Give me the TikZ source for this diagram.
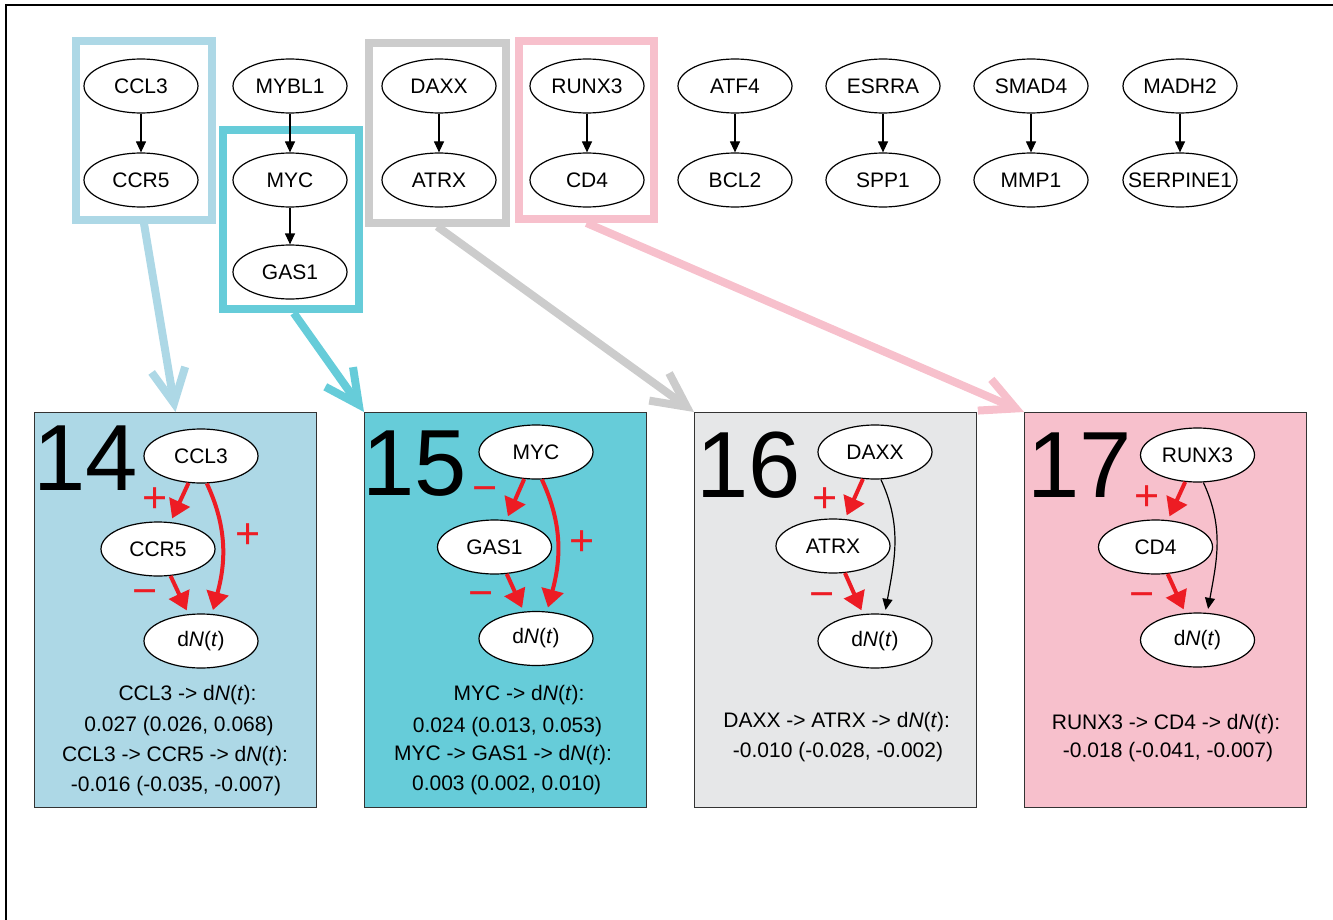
\documentclass[tikz,border=0pt]{standalone}
\usepackage{fontspec}
\setmainfont{Liberation Sans}
\usetikzlibrary{arrows.meta,shapes.geometric,calc}
\definecolor{lblue}{RGB}{173,216,230}
\definecolor{tealb}{RGB}{102,204,217}
\definecolor{grayb}{RGB}{204,204,204}
\definecolor{lgray}{RGB}{230,231,232}
\definecolor{pinkb}{RGB}{247,192,204}
\definecolor{redb}{RGB}{237,28,36}
\begin{document}
\begin{tikzpicture}[x=0.5pt,y=-0.5pt,
  gene/.style={ellipse,draw=black,fill=white,line width=0.6pt,minimum width=57pt,minimum height=27pt,inner sep=0pt,font=\fontsize{10.5}{12}\selectfont},
  sarr/.style={-{Triangle[length=5.5pt,width=5pt]},line width=0.6pt,black},
  hbox/.style={draw,line width=4pt,rectangle,inner sep=0pt},
  bigarr/.style={line width=4pt,-{Straight Barb[length=17pt,width=17pt]}},
  panel/.style={rectangle,draw=black!80,line width=0.5pt,inner sep=0pt,minimum width=141pt,minimum height=197.5pt,anchor=north west},
  rarr/.style={redb,line width=2pt,-{Triangle[length=9pt,width=11pt]},shorten >=2pt},
  txt/.style={font=\fontsize{10.5}{12}\selectfont,inner sep=0pt},
  sign/.style={redb,font=\fontsize{21.5}{24}\selectfont,inner sep=0pt,anchor=base},
  bignum/.style={font=\fontsize{47}{50}\selectfont,inner sep=0pt,anchor=base west}
]
\useasboundingbox (0,0) rectangle (1333,920);
% frame
\coordinate (fr1) at (6,920);
\coordinate (fr2) at (6,5);
\coordinate (fr3) at (1333,5);
\draw[line width=1pt] (fr1) -- (fr2) -- (fr3);

% highlight boxes
\node[hbox,draw=lblue,minimum width=68pt,minimum height=89.25pt] (hb1) at (144,130.25) {};
\node[hbox,draw=tealb,minimum width=68.25pt,minimum height=89.5pt] (hb2) at (290.75,219.5) {};
\node[hbox,draw=grayb,minimum width=68.25pt,minimum height=89.75pt] (hb3) at (437.25,132.75) {};
\node[hbox,draw=pinkb,minimum width=67.5pt,minimum height=89pt] (hb4) at (586.5,130) {};

% top graph
\node[gene] (t1a) at (141,86) {CCL3};
\node[gene] (t1b) at (141,180) {CCR5};
\node[gene] (t2a) at (290,86) {MYBL1};
\node[gene] (t2b) at (290,180) {MYC};
\node[gene] (t2c) at (290,272) {GAS1};
\node[gene] (t3a) at (439,86) {DAXX};
\node[gene] (t3b) at (439,180) {ATRX};
\node[gene] (t4a) at (587,86) {RUNX3};
\node[gene] (t4b) at (587,180) {CD4};
\node[gene] (t5a) at (735,86) {ATF4};
\node[gene] (t5b) at (735,180) {BCL2};
\node[gene] (t6a) at (883,86) {ESRRA};
\node[gene] (t6b) at (883,180) {SPP1};
\node[gene] (t7a) at (1031,86) {SMAD4};
\node[gene] (t7b) at (1031,180) {MMP1};
\node[gene] (t8a) at (1180,86) {MADH2};
\node[gene] (t8b) at (1180,180) {\makebox[38pt][c]{SERPINE1}};
\draw[sarr] (t1a) -- (t1b);
\draw[sarr] (t2a) -- (t2b);
\draw[sarr] (t2b) -- (t2c);
\draw[sarr] (t3a) -- (t3b);
\draw[sarr] (t4a) -- (t4b);
\draw[sarr] (t5a) -- (t5b);
\draw[sarr] (t6a) -- (t6b);
\draw[sarr] (t7a) -- (t7b);
\draw[sarr] (t8a) -- (t8b);

% panels
\node[panel,fill=lblue] (b14) at (34,412) {};
\node[panel,fill=tealb] (b15) at (364,412) {};
\node[panel,fill=lgray] (b16) at (694,412) {};
\node[panel,fill=pinkb] (b17) at (1024,412) {};

% big arrows
\draw[bigarr,lblue] (hb1.south) -- (b14.north);
\draw[bigarr,tealb] ($(hb2.south)+(3,0)$) -- (b15.north west);
\draw[bigarr,grayb] (hb3.south) -- (b16.north west);
\draw[bigarr,pinkb] (hb4.south) -- (b17.north west);

% panel 14
\node[bignum] (n14) at (33,490) {14};
\node[gene] (p14a) at (201,456) {CCL3};
\node[gene] (p14b) at (158,549) {CCR5};
\node[gene] (p14c) at (201,641) {d\textit{N}(\textit{t})};
\draw[rarr] (p14a) -- (p14b);
\draw[rarr] (p14b) -- (p14c);
\draw[rarr] (p14a.-78) to[out=-65,in=75] (p14c.68);
\node[sign] (s14a) at (155,512) {+};
\node[sign] (s14b) at (248,548) {+};
\node[sign] (s14c) at (145,605) {−};
\node[txt] (l14a) at (187.5,695) {CCL3 -> d\textit{N}(\textit{t}):};
\node[txt] (l14b) at (179,726) {0.027 (0.026, 0.068)};
\node[txt] (l14c) at (175,756) {CCL3 -> CCR5 -> d\textit{N}(\textit{t}):};
\node[txt] (l14d) at (176,786) {-0.016 (-0.035, -0.007)};

% panel 15
\node[bignum] (n15) at (362,495) {15};
\node[gene] (p15a) at (536,452) {MYC};
\node[gene] (p15b) at (494.5,547) {GAS1};
\node[gene] (p15c) at (536,638.5) {d\textit{N}(\textit{t})};
\draw[rarr] (p15a) -- (p15b);
\draw[rarr] (p15b) -- (p15c);
\draw[rarr] (p15a.-78) to[out=-65,in=75] (p15c.68);
\node[sign] (s15a) at (485,502) {−};
\node[sign] (s15b) at (582,555) {+};
\node[sign] (s15c) at (481,607) {−};
\node[txt] (l15a) at (519,695) {MYC -> d\textit{N}(\textit{t}):};
\node[txt] (l15b) at (507.5,727) {0.024 (0.013, 0.053)};
\node[txt] (l15c) at (503,755) {MYC -> GAS1 -> d\textit{N}(\textit{t}):};
\node[txt] (l15d) at (506.7,785) {0.003 (0.002, 0.010)};

% panel 16
\node[bignum] (n16) at (696,497) {16};
\node[gene] (p16a) at (875,452) {DAXX};
\node[gene] (p16b) at (833,546) {ATRX};
\node[gene] (p16c) at (875,641) {d\textit{N}(\textit{t})};
\draw[rarr] (p16a) -- (p16b);
\draw[rarr] (p16b) -- (p16c);
\draw[sarr,shorten >=2pt] (p16a.-78) to[out=-65,in=80] (p16c.70);
\node[sign] (s16a) at (825,512) {+};
\node[sign] (s16b) at (822,608) {−};
\node[txt] (l16a) at (836.7,722) {DAXX -> ATRX -> d\textit{N}(\textit{t}):};
\node[txt] (l16b) at (838,752) {-0.010 (-0.028, -0.002)};

% panel 17
\node[bignum] (n17) at (1027,497) {17};
\node[gene] (p17a) at (1197.5,455) {RUNX3};
\node[gene] (p17b) at (1155.5,547) {CD4};
\node[gene] (p17c) at (1197.5,640) {d\textit{N}(\textit{t})};
\draw[rarr] (p17a) -- (p17b);
\draw[rarr] (p17b) -- (p17c);
\draw[sarr,shorten >=2pt] (p17a.-78) to[out=-65,in=80] (p17c.70);
\node[sign] (s17a) at (1147,510) {+};
\node[sign] (s17b) at (1142,608) {−};
\node[txt] (l17a) at (1166,724) {RUNX3 -> CD4 -> d\textit{N}(\textit{t}):};
\node[txt] (l17b) at (1168,752) {-0.018 (-0.041, -0.007)};
\end{tikzpicture}
\end{document}
